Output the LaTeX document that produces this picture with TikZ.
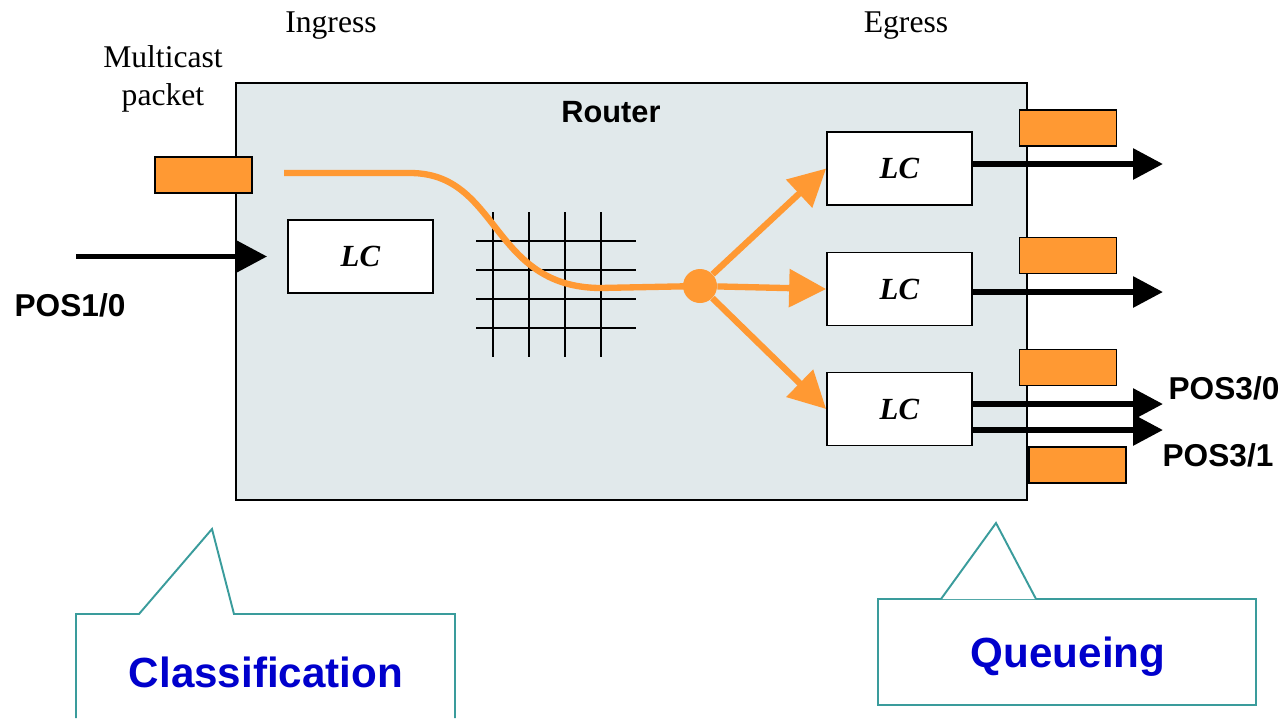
\documentclass[tikz,border=0pt]{standalone}
\usepackage{fontspec}
\setmainfont{Liberation Serif}
\setsansfont{Liberation Sans}
\usepackage{tikz}
\usetikzlibrary{positioning}
\usetikzlibrary{arrows.meta}
\definecolor{pktorange}{HTML}{FF9933}
\definecolor{routerbg}{HTML}{E1E9EB}
\definecolor{calloutline}{HTML}{3A9C9C}
\definecolor{calloutblue}{HTML}{0000CC}
\newcommand{\lc}{\textbf{\textit{LC}}}

\begin{document}
\begin{tikzpicture}[x=0.02cm, y=-0.02cm,
    card/.style={draw=black, fill=white, line width=1pt, minimum width=2.9cm, minimum height=1.46cm, text depth=0pt, font=\fontsize{17.5}{20}\selectfont},
    packet/.style={draw=black, fill=pktorange, line width=1pt, minimum width=1.94cm, minimum height=0.72cm},
    port/.style={line width=3.4pt, -{Triangle[length=6mm, width=6mm]}},
    flow/.style={pktorange, line width=3.6pt, -{Triangle[length=7.4mm, width=7.4mm]}},
    lbl/.style={font=\fontsize{18}{21.5}\selectfont, align=center},
    portlbl/.style={font=\sffamily\bfseries\fontsize{18}{20}\selectfont},
    callout/.style={calloutline, line width=1.1pt},
    callouttext/.style={text=calloutblue, font=\sffamily\bfseries\fontsize{24}{28}\selectfont}]
    \useasboundingbox (0,0) rectangle (1284,718);

    \node[draw=black, fill=routerbg, line width=0.8pt, minimum width=15.82cm, minimum height=8.34cm] (router) at (631.5,291.5) {};
    \node[font=\sffamily\bfseries\fontsize{17.5}{20}\selectfont] (routername) at (611,112) {Router};

    \node[lbl] (ingress) at (331,26) {Ingress};
    \node[lbl] (egress) at (906,26) {Egress};
    \node[lbl] (mcast) at (163,79) {Multicast\\packet};

    % switch fabric
    \foreach \gx in {493,529,565,601}
        \draw[line width=1.1pt] (\gx,212) -- (\gx,357);
    \foreach \gy in {241,270,299,328}
        \draw[line width=1.1pt] (476,\gy) -- (636,\gy);

    \node[card] (lcin) at (360.5,256.5) {\lc};
    \node[card] (lcone) at (899.5,168.5) {\lc};
    \node[card] (lctwo) at (899.5,289) {\lc};
    \node[card] (lcthree) at (899.5,409) {\lc};

    \node[packet] (pktin) at (203.5,175) {};
    \node[packet] (pktone) at (1068,128) {};
    \node[packet] (pkttwo) at (1068,255.5) {};
    \node[packet] (pktthree) at (1068,367.5) {};
    \node[packet] (pktfour) at (1077.5,465) {};

    % multicast path
    \node[circle, fill=pktorange, minimum size=0.68cm, inner sep=0pt] (hub) at (700,286) {};
    \coordinate (src) at (284,173);
    \draw[pktorange, line width=3.6pt] (src) -- (410,173) .. controls (500,173) and (490,287) .. (600,288) -- (hub.center);
    \draw[flow] (hub) -- (lcone.west);
    \draw[flow] (hub) -- (lctwo.west);
    \draw[flow] (hub) -- (lcthree.west);

    % ports
    \coordinate (inport) at (76,256.5);
    \coordinate (outone) at (1163,164);
    \coordinate (outtwo) at (1163,292);
    \coordinate (outthree) at (1163,404);
    \coordinate (outfour) at (1163,430);
    \draw[port, shorten >=0.4cm] (inport) -- (lcin.west);
    \draw[port] (lcone.east |- outone) -- (outone);
    \draw[port] (lctwo.east |- outtwo) -- (outtwo);
    \draw[port] (lcthree.east |- outthree) -- (outthree);
    \draw[port] (lcthree.east |- outfour) -- (outfour);

    \node[portlbl] (posin) at (70,305) {POS1/0};
    \node[portlbl] (posthree) at (1224,388) {POS3/0};
    \node[portlbl] (posfour) at (1218,455) {POS3/1};

    % callouts
    \draw[callout] (76,718) -- (76,614) -- (139,614) -- (212,529) -- (234,614) -- (455,614) -- (455,718);
    \node[callouttext] (classify) at (266,672) {Classification};
    \draw[callout] (878,599) rectangle (1256,705);
    \draw[callout, fill=white] (941,599) -- (996,523) -- (1036,599);
    \node[callouttext] (queue) at (1068,657) {Queueing};
\end{tikzpicture}
\end{document}
